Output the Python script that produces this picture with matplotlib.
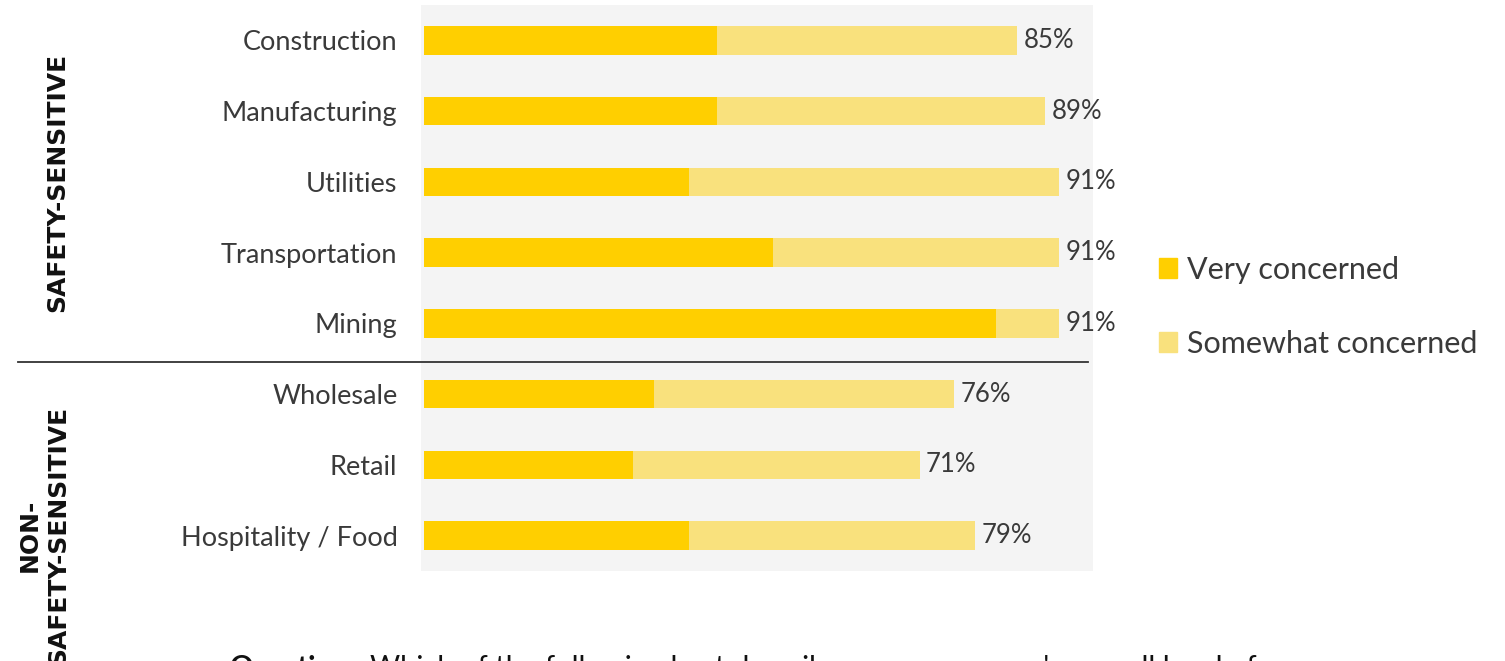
import matplotlib
matplotlib.use("Agg")
import matplotlib.pyplot as plt
from matplotlib.lines import Line2D
from matplotlib.patches import Patch

matplotlib.rcParams["font.family"] = ["Lato", "DejaVu Sans"]

industries = ["Construction", "Manufacturing", "Utilities", "Transportation", "Mining",
              "Wholesale", "Retail", "Hospitality / Food"]
very = [42, 42, 38, 50, 82, 33, 30, 38]
total = [85, 89, 91, 91, 91, 76, 71, 79]
somewhat = [t - v for t, v in zip(total, very)]
total_labels = [f"{t}%" for t in total]

DARK = "#FFCF00"
LIGHT = "#F9E17D"
BG = "#F4F4F4"
TXT = "#3A3A3A"

fig = plt.figure(figsize=(15.05, 6.61), dpi=100)
ax = fig.add_axes([421 / 1505, 1 - 571 / 661, 672 / 1505, 566 / 661])
ax.set_facecolor(BG)

y = list(range(len(industries)))
ax.barh(y, very, height=0.4, color=DARK, label="Very concerned")
ax.barh(y, somewhat, left=very, height=0.4, color=LIGHT, label="Somewhat concerned")
for yi, t, lab in zip(y, total, total_labels):
    ax.text(t + 0.9, yi, lab, va="center", ha="left", fontsize=18.5, color=TXT)

ax.set_xlim(-0.43, 95.85)
ax.set_ylim(len(industries) - 0.5, -0.5)
ax.set_yticks(y)
ax.set_yticklabels(industries, fontsize=19.5, color=TXT)
ax.tick_params(axis="y", length=0, pad=17)
ax.set_xticks([])
for s in ax.spines.values():
    s.set_visible(False)

# separator between the two groups
fig.add_artist(Line2D([18 / 1505, 1088 / 1505], [1 - 362 / 661] * 2,
                      color="#333333", lw=1.3))

group_font = dict(family="DejaVu Sans", fontsize=18, fontweight="bold", color="#111111")
fig.text(57 / 1505, 1 - 182 / 661, "SAFETY-SENSITIVE", rotation=90, ha="center",
         va="center", **group_font)
fig.text(44 / 1505, 1 - 535 / 661, "NON-\nSAFETY-SENSITIVE", rotation=90, ha="center",
         va="center", multialignment="center", linespacing=1.2, **group_font)

handles = [Patch(color=DARK), Patch(color=LIGHT)]
fig.legend(handles, ["Very concerned", "Somewhat concerned"], loc="center left",
           bbox_to_anchor=(1131 / 1505, 1 - 307 / 661), frameon=False, fontsize=22,
           handlelength=0.62, handleheight=0.62, handletextpad=0.3, labelspacing=1.5,
           labelcolor=TXT)

fig.text(230 / 1505, 1 - 655 / 661, "Question:", fontsize=21, fontweight="bold",
         color="#111111", va="top", ha="left")
fig.text(370 / 1505, 1 - 655 / 661,
         "Which of the following best describes your company's overall level of",
         fontsize=21, color="#111111", va="top", ha="left")

fig.savefig("out.png", dpi=100)
